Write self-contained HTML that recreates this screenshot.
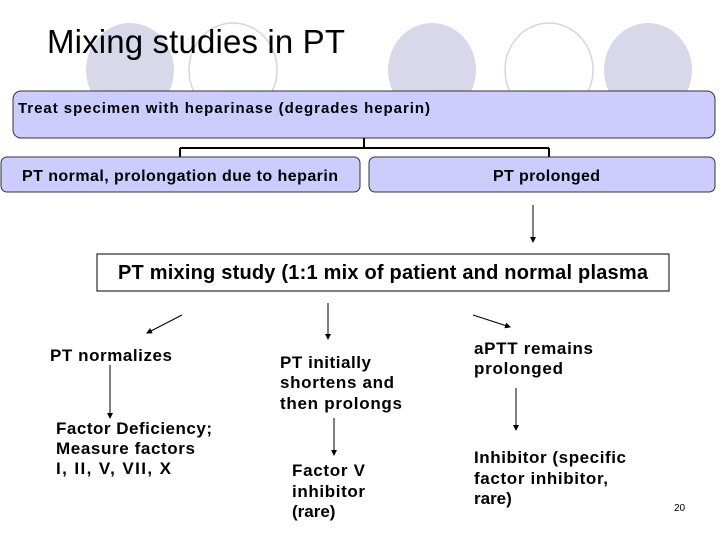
<!DOCTYPE html>
<html><head><meta charset="utf-8"><style>
body{margin:0;width:728px;height:546px;background:#fff;overflow:hidden}
svg{font-family:"Liberation Sans",Arial,sans-serif}
.b{font-weight:bold;font-size:17px;fill:#000}
</style></head><body>
<svg width="728" height="546" viewBox="0 0 728 546">
<defs><marker id="ah" markerWidth="6" markerHeight="6" refX="5" refY="3" orient="auto"><path d="M0,0L6,3L0,6z" fill="#000"/></marker></defs>
<g>
<ellipse cx="130" cy="70" rx="44" ry="47" fill="#d8d8ea"/>
<ellipse cx="233" cy="70" rx="44" ry="47" fill="none" stroke="#d4d4e6" stroke-width="1.5"/>
<ellipse cx="432" cy="70" rx="44" ry="47" fill="#d8d8ea"/>
<ellipse cx="549" cy="70" rx="44" ry="47" fill="none" stroke="#d4d4e6" stroke-width="1.5"/>
<ellipse cx="648" cy="70" rx="44" ry="47" fill="#d8d8ea"/>
</g>
<text x="47" y="53" font-size="33" textLength="298" fill="#000">Mixing studies in PT</text>
<rect x="13" y="91" width="702" height="47" rx="8" fill="#ccccff" stroke="#333" stroke-width="1"/>
<text x="18" y="113" class="b" style="font-size:15px" textLength="412">Treat specimen with heparinase (degrades heparin)</text>
<path d="M364 138V148M180 148H549M180 148V157M549 148V157" stroke="#000" stroke-width="2" fill="none"/>
<rect x="1" y="157" width="359" height="35" rx="6" fill="#ccccff" stroke="#333"/>
<text x="22" y="181" class="b" style="font-size:16px" textLength="316">PT normal, prolongation due to heparin</text>
<rect x="369" y="157" width="346" height="35" rx="6" fill="#ccccff" stroke="#333"/>
<text x="493" y="181" class="b" style="font-size:16px" textLength="107">PT prolonged</text>
<g stroke="#000" stroke-width="1" marker-end="url(#ah)">
<line x1="533" y1="205" x2="533" y2="242"/>
<line x1="182" y1="315" x2="147" y2="333"/>
<line x1="328" y1="303" x2="328" y2="339"/>
<line x1="473" y1="315" x2="510" y2="327"/>
<line x1="110" y1="365" x2="110" y2="418"/>
<line x1="334" y1="418" x2="334" y2="455"/>
<line x1="516" y1="388" x2="516" y2="430"/>
</g>
<rect x="97" y="254" width="572" height="37" fill="#fff" stroke="#000"/>
<text x="118" y="279" class="b" style="font-size:20px" textLength="530">PT  mixing study (1:1 mix of patient and normal plasma</text>
<text x="50" y="361" class="b" textLength="122">PT normalizes</text>
<text class="b"><tspan x="56" y="434" textLength="156">Factor Deficiency;</tspan><tspan x="56" y="454" textLength="139">Measure factors</tspan><tspan x="56" y="474" textLength="115">I, II, V, VII, X</tspan></text>
<text class="b"><tspan x="280" y="368" textLength="91">PT initially</tspan><tspan x="280" y="388" textLength="114">shortens and</tspan><tspan x="280" y="409" textLength="122">then prolongs</tspan></text>
<text class="b"><tspan x="292" y="476" textLength="73">Factor V</tspan><tspan x="292" y="497" textLength="73">inhibitor</tspan><tspan x="292" y="517">(rare)</tspan></text>
<text class="b"><tspan x="474" y="354" textLength="119">aPTT remains</tspan><tspan x="474" y="374" textLength="89">prolonged</tspan></text>
<text class="b"><tspan x="474" y="463" textLength="152">Inhibitor (specific</tspan><tspan x="474" y="484" textLength="134">factor inhibitor,</tspan><tspan x="474" y="504">rare)</tspan></text>
<text x="674" y="511" font-size="10" fill="#000">20</text>
</svg>
</body></html>
